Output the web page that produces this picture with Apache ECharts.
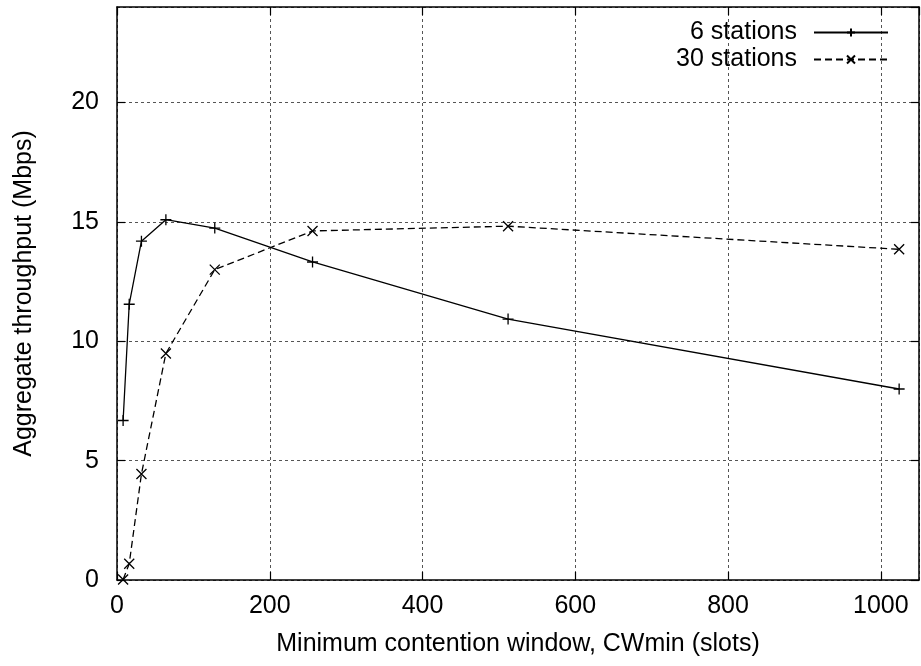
<!DOCTYPE html>
<html>
<head>
<meta charset="utf-8">
<script src="https://cdn.jsdelivr.net/npm/echarts@6/dist/echarts.min.js"></script>
<style>
html,body{margin:0;padding:0;background:#fff;}
#chart{width:921px;height:666px;}
</style>
</head>
<body>
<div id="chart"></div>
<script>
// CWmin values (slots)
const cwmin = [8, 16, 32, 64, 128, 256, 512, 1024];
// Aggregate throughput (Mbps)
const stations6 = [6.68, 11.55, 14.19, 15.09, 14.74, 13.32, 10.93, 8.0];
const stations30 = [0.02, 0.68, 4.44, 9.49, 13.0, 14.62, 14.82, 13.85];
const seriesNames = ['6 stations', '30 stations'];
const xTitle = 'Minimum contention window, CWmin (slots)';
const yTitle = 'Aggregate throughput (Mbps)';

const FONT = 'Liberation Sans';
const FS = 25;
const plusPath = 'path://M0,5L10,5M5,0L5,10';
const crossPath = 'path://M0,0L10,10M0,10L10,0';

const gridLine = {show: true, lineStyle: {color: '#555', width: 1, type: [3, 3]}};
const tickIn = {show: true, inside: true, length: 8, lineStyle: {color: '#000', width: 1.2}};
const axisLine = {show: true, onZero: false, lineStyle: {color: '#000', width: 1.5}};

const chart = echarts.init(document.getElementById('chart'), null, {renderer: 'canvas'});
chart.setOption({
  animation: false,
  backgroundColor: '#fff',
  grid: {left: 117, right: 2, top: 7, bottom: 86, containLabel: false},
  legend: {
    orient: 'vertical',
    right: 27,
    top: 15,
    align: 'right',
    itemWidth: 74,
    itemHeight: 10,
    itemGap: 2,
    textStyle: {fontFamily: FONT, fontSize: FS, color: '#000', padding: [0, 12, 0, 0]},
    data: seriesNames
  },
  xAxis: [{
    type: 'value', min: 0, max: 1050, interval: 200,
    position: 'bottom',
    axisLine: axisLine, axisTick: tickIn, splitLine: gridLine,
    axisLabel: {fontFamily: FONT, fontSize: FS, color: '#000', margin: 14, showMaxLabel: false,
      formatter: v => (v % 200 === 0 ? String(v) : '')},
    name: xTitle, nameLocation: 'middle', nameGap: 52,
    nameTextStyle: {fontFamily: FONT, fontSize: FS, color: '#000'}
  }, {
    type: 'value', min: 0, max: 1050, interval: 200,
    position: 'top',
    axisLine: axisLine, axisTick: tickIn, splitLine: {show: false},
    axisLabel: {show: false}
  }],
  yAxis: [{
    type: 'value', min: 0, max: 24, interval: 5,
    position: 'left',
    axisLine: axisLine, axisTick: tickIn, splitLine: gridLine,
    axisLabel: {fontFamily: FONT, fontSize: FS, color: '#000', margin: 18, showMaxLabel: false,
      formatter: v => (v % 5 === 0 ? String(v) : '')},
    name: yTitle, nameLocation: 'middle', nameGap: 80, nameRotate: 90,
    nameTextStyle: {fontFamily: FONT, fontSize: FS, color: '#000'}
  }, {
    type: 'value', min: 0, max: 24, interval: 5,
    position: 'right',
    axisLine: axisLine, axisTick: tickIn, splitLine: {show: false},
    axisLabel: {show: false}
  }],
  series: [{
    name: seriesNames[0],
    type: 'line',
    data: cwmin.map((x, i) => [x, stations6[i]]),
    symbol: plusPath,
    symbolSize: 11,
    showAllSymbol: true,
    silent: true,
    lineStyle: {color: '#000', width: 1.3, type: 'solid'},
    itemStyle: {color: '#000', borderColor: '#000', borderWidth: 1.3},
    z: 5
  }, {
    name: seriesNames[1],
    type: 'line',
    data: cwmin.map((x, i) => [x, stations30[i]]),
    symbol: crossPath,
    symbolSize: 10,
    showAllSymbol: true,
    silent: true,
    lineStyle: {color: '#000', width: 1.3, type: [7, 4]},
    itemStyle: {color: '#000', borderColor: '#000', borderWidth: 1.3},
    z: 5
  }]
});
</script>
</body>
</html>
